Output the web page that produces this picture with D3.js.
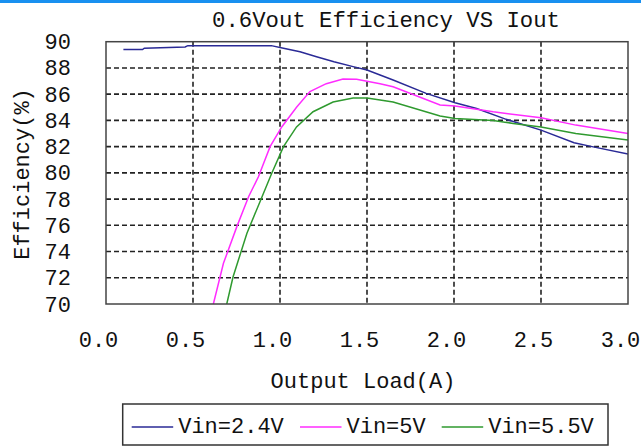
<!DOCTYPE html>
<html><head><meta charset="utf-8">
<script src="https://cdn.jsdelivr.net/npm/d3@7"></script>
<style>
html,body{margin:0;padding:0;background:#fff;}
svg{display:block;}
text{font-family:"Liberation Mono","DejaVu Sans Mono",monospace;fill:#111;}
</style></head>
<body><svg id="c" width="641" height="447"></svg>
<script>
const title = "0.6Vout Efficiency VS Iout";
const xLabel = "Output Load(A)";
const yLabel = "Efficiency(%)";
const xTicks = [0, 0.5, 1.0, 1.5, 2.0, 2.5, 3.0];
const yTicks = [70, 72, 74, 76, 78, 80, 82, 84, 86, 88, 90];
const seriesNames = ["Vin=2.4V", "Vin=5V", "Vin=5.5V"];
const seriesColors = ["#2a2a96", "#ff2cff", "#2f9a2f"];

const vin24x = [0.10, 0.21, 0.22, 0.455, 0.47, 0.95, 1.02, 1.115, 1.21, 1.31, 1.42, 1.5, 1.575, 1.65, 1.84, 2.006, 2.13, 2.30, 2.5, 2.69, 2.8, 3.0];
const vin24y = [89.4, 89.4, 89.5, 89.6, 89.7, 89.7, 89.5, 89.24, 88.85, 88.47, 88.1, 87.84, 87.46, 87.08, 86.06, 85.34, 84.9, 84.08, 83.26, 82.3, 81.98, 81.43];

const vin5x = [0.617, 0.675, 0.752, 0.82, 0.876, 0.943, 1.01, 1.095, 1.172, 1.266, 1.362, 1.44, 1.575, 1.65, 1.92, 2.006, 2.225, 2.5, 2.70, 3.0];
const vin5y = [70.0, 73.1, 75.9, 78.2, 79.7, 82.0, 83.5, 85.0, 86.2, 86.8, 87.15, 87.13, 86.8, 86.56, 85.17, 85.1, 84.65, 84.2, 83.64, 83.0];

const vin55x = [0.694, 0.73, 0.81, 0.885, 0.952, 1.02, 1.095, 1.19, 1.305, 1.42, 1.5, 1.575, 1.65, 1.92, 2.006, 2.225, 2.34, 2.5, 2.70, 3.0];
const vin55y = [70.0, 72.06, 75.4, 77.8, 79.95, 82.0, 83.5, 84.66, 85.4, 85.7, 85.7, 85.55, 85.4, 84.33, 84.15, 84.0, 83.77, 83.5, 83.0, 82.5];

const seriesX = [vin24x, vin5x, vin55x];
const seriesY = [vin24y, vin5y, vin55y];

const svg = d3.select("#c");
const L = 106, R = 628, T = 41.7, B = 304;
const x = d3.scaleLinear().domain([0, 3]).range([L, R]);
const y = d3.scaleLinear().domain([70, 90]).range([B, T]);

// top blue band
svg.append("rect").attr("x", 0).attr("y", 0).attr("width", 641).attr("height", 3).attr("fill", "#1890f0");

// title
svg.append("text").attr("x", 386).attr("y", 27).attr("text-anchor", "middle")
  .attr("font-size", 22).attr("textLength", 348).attr("lengthAdjust", "spacingAndGlyphs").text(title);

// clip
svg.append("clipPath").attr("id", "pc").append("rect")
  .attr("x", L).attr("y", T).attr("width", R - L).attr("height", B - T);

// grid
const grid = svg.append("g").attr("stroke", "#222").attr("stroke-width", 1.6).attr("stroke-dasharray", "5,3");
grid.selectAll("line.v").data(xTicks.filter(d => d > 0 && d < 3)).join("line")
  .attr("x1", d => x(d)).attr("x2", d => x(d)).attr("y1", T).attr("y2", B);
grid.selectAll("line.h").data(yTicks.filter(d => d > 70 && d < 90)).join("line")
  .attr("class", "h")
  .attr("x1", L).attr("x2", R).attr("y1", d => y(d)).attr("y2", d => y(d));

// series
const line = d3.line().x(d => x(d[0])).y(d => y(d[1]));
const lines = svg.append("g").attr("clip-path", "url(#pc)");
seriesNames.forEach((n, i) => {
  const pts = seriesX[i].map((v, j) => [v, seriesY[i][j]]);
  lines.append("path").datum(pts).attr("d", line).attr("fill", "none")
    .attr("stroke", seriesColors[i]).attr("stroke-width", 1.5);
});

// frame
svg.append("rect").attr("x", L).attr("y", T).attr("width", R - L).attr("height", B - T)
  .attr("fill", "none").attr("stroke", "#444").attr("stroke-width", 1.5);

// axes (labels only)
const xAxis = d3.axisBottom(x).tickValues(xTicks).tickFormat(d3.format(".1f")).tickSize(0).tickPadding(0);
const gx = svg.append("g").attr("transform", `translate(-8,${B})`).call(xAxis);
gx.select(".domain").remove();
gx.selectAll("text").attr("font-size", 22).attr("dy", "1.95em").attr("fill", "#111")
  .style("font-family", '"Liberation Mono","DejaVu Sans Mono",monospace');

const yAxis = d3.axisLeft(y).tickValues(yTicks).tickFormat(d3.format("d")).tickSize(0).tickPadding(0);
const gy = svg.append("g").attr("transform", `translate(71,0)`).call(yAxis);
gy.select(".domain").remove();
gy.selectAll("text").attr("font-size", 22).attr("fill", "#111")
  .style("font-family", '"Liberation Mono","DejaVu Sans Mono",monospace');

// axis titles
svg.append("text").attr("x", 363).attr("y", 388).attr("text-anchor", "middle")
  .attr("font-size", 22).text(xLabel);
svg.append("text").attr("transform", "translate(29,174) rotate(-90)").attr("text-anchor", "middle")
  .attr("font-size", 22).text(yLabel);

// legend
const lg = svg.append("g");
lg.append("rect").attr("x", 122.7).attr("y", 404).attr("width", 608 - 122.7).attr("height", 41)
  .attr("fill", "#fff").attr("stroke", "#333").attr("stroke-width", 1.5);
const legX = [131.7, 300, 441.7];
seriesNames.forEach((n, i) => {
  lg.append("line").attr("x1", legX[i]).attr("x2", legX[i] + 41.5).attr("y1", 427).attr("y2", 427)
    .attr("stroke", seriesColors[i]).attr("stroke-width", 1.5);
  lg.append("text").attr("x", legX[i] + 46.5).attr("y", 433).attr("font-size", 22).text(n);
});
</script></body></html>
